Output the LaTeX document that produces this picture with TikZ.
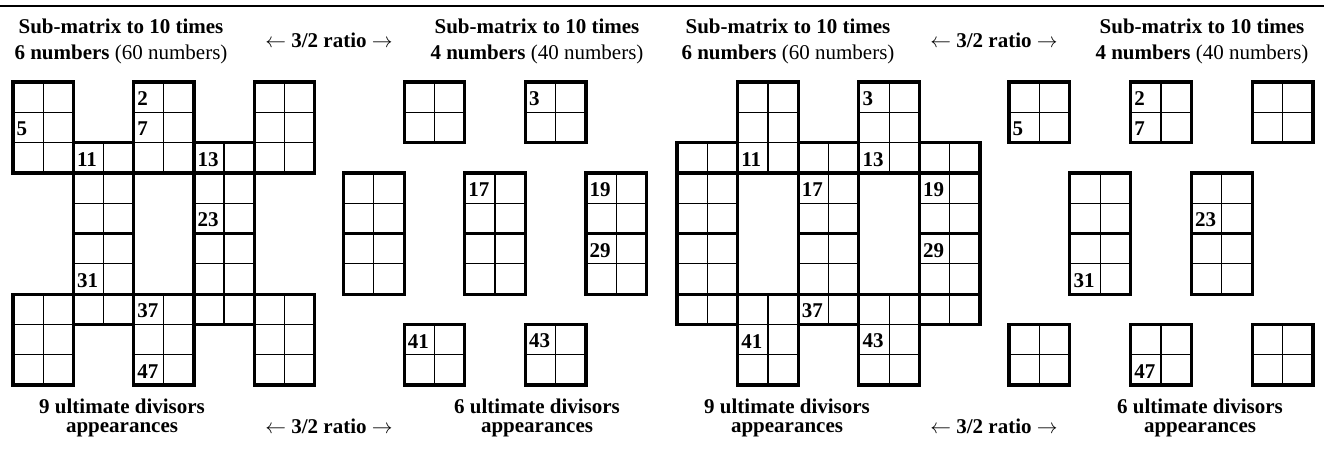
\documentclass[tikz,border=0pt]{standalone}
\usepackage{fontspec}
\setmainfont{Liberation Serif}
% one group of cells: column, row, width, height (in cells)
\newcommand{\cellblock}[4]{%
  \foreach \i in {0,...,#3} \draw[cellline] (#1+\i,#2) -- ++(0,#4);
  \foreach \j in {0,...,#4} \draw[cellline] (#1,#2+\j) -- ++(#3,0);
  \draw[blockline] (#1,#2) rectangle ++(#3,#4);}

\begin{document}
\begin{tikzpicture}[
  x=1pt, y=-1pt,
  cellline/.style={line width=1.2pt},
  blockline/.style={line width=3.2pt},
  num/.style={anchor=west, inner xsep=3.5pt, inner ysep=0pt, font=\fontsize{21}{21}\selectfont\bfseries},
  headtext/.style={align=center, inner sep=0pt, anchor=base, font=\fontsize{21}{26}\selectfont},
  foottext/.style={align=center, inner sep=0pt, anchor=base, font=\fontsize{21}{19}\selectfont\bfseries},
  ratiotext/.style={inner sep=0pt, anchor=base, font=\fontsize{21}{21}\selectfont\bfseries}
]
\useasboundingbox (0,0) rectangle (1324,452);
\draw[line width=2.3pt] (0,6) -- (1324,6);

% labels
\node[headtext] (headA) at (121,59.5) {\textbf{Sub-matrix to 10 times}\\\textbf{6 numbers} (60 numbers)};
\node[ratiotext] (ratioA) at (329,48) {$\leftarrow$ 3/2 ratio $\rightarrow$};
\node[headtext] (headB) at (537,59.5) {\textbf{Sub-matrix to 10 times}\\\textbf{4 numbers} (40 numbers)};
\node[headtext] (headC) at (788,59.5) {\textbf{Sub-matrix to 10 times}\\\textbf{6 numbers} (60 numbers)};
\node[ratiotext] (ratioC) at (994,48) {$\leftarrow$ 3/2 ratio $\rightarrow$};
\node[headtext] (headD) at (1202,59.5) {\textbf{Sub-matrix to 10 times}\\\textbf{4 numbers} (40 numbers)};

\node[foottext] (footA) at (122,432) {9 ultimate divisors\\appearances};
\node[ratiotext] (ratioB) at (329,433) {$\leftarrow$ 3/2 ratio $\rightarrow$};
\node[foottext] (footB) at (537,432) {6 ultimate divisors\\appearances};
\node[foottext] (footC) at (787,432) {9 ultimate divisors\\appearances};
\node[ratiotext] (ratioD) at (994,433) {$\leftarrow$ 3/2 ratio $\rightarrow$};
\node[foottext] (footD) at (1200,432) {6 ultimate divisors\\appearances};

% 60 numbers, first
\begin{scope}[shift={(13pt,-82pt)}, x=30.15pt, y=-30.3pt]
  \foreach \c in {0,4,8} {\cellblock{\c}{0}{2}{3} \cellblock{\c}{7}{2}{3}}
  \foreach \c in {2,6} {\cellblock{\c}{2}{2}{1} \cellblock{\c}{3}{2}{2}
    \cellblock{\c}{5}{2}{2} \cellblock{\c}{7}{2}{1}}
  \node[num] (a2) at (4,0.55) {2};
  \node[num] (a5) at (0,1.55) {5};
  \node[num] (a7) at (4,1.55) {7};
  \node[num] (a11) at (2,2.55) {11};
  \node[num] (a13) at (6,2.55) {13};
  \node[num] (a23) at (6,4.55) {23};
  \node[num] (a31) at (2,6.55) {31};
  \node[num] (a37) at (4,7.55) {37};
  \node[num] (a47) at (4,9.55) {47};
\end{scope}

% 40 numbers, first
\begin{scope}[shift={(343.5pt,-82pt)}, x=30.3pt, y=-30.3pt]
  \foreach \c in {2,6} {\cellblock{\c}{0}{2}{2} \cellblock{\c}{8}{2}{2}}
  \foreach \c in {0,4,8} {\cellblock{\c}{3}{2}{2} \cellblock{\c}{5}{2}{2}}
  \node[num] (b3) at (6,0.55) {3};
  \node[num] (b17) at (4,3.55) {17};
  \node[num] (b19) at (8,3.55) {19};
  \node[num] (b29) at (8,5.55) {29};
  \node[num] (b41) at (2,8.55) {41};
  \node[num] (b43) at (6,8.55) {43};
\end{scope}

% 60 numbers, second
\begin{scope}[shift={(677pt,-82pt)}, x=30.3pt, y=-30.3pt]
  \foreach \c in {2,6} {\cellblock{\c}{0}{2}{3} \cellblock{\c}{7}{2}{3}}
  \foreach \c in {0,4,8} {\cellblock{\c}{2}{2}{1} \cellblock{\c}{3}{2}{2}
    \cellblock{\c}{5}{2}{2} \cellblock{\c}{7}{2}{1}}
  \node[num] (c3) at (6,0.55) {3};
  \node[num] (c11) at (2,2.55) {11};
  \node[num] (c13) at (6,2.55) {13};
  \node[num] (c17) at (4,3.55) {17};
  \node[num] (c19) at (8,3.55) {19};
  \node[num] (c29) at (8,5.55) {29};
  \node[num] (c37) at (4,7.55) {37};
  \node[num] (c41) at (2,8.55) {41};
  \node[num] (c43) at (6,8.55) {43};
\end{scope}

% 40 numbers, second
\begin{scope}[shift={(1009pt,-82pt)}, x=30.4pt, y=-30.3pt]
  \foreach \c in {0,4,8} {\cellblock{\c}{0}{2}{2} \cellblock{\c}{8}{2}{2}}
  \foreach \c in {2,6} {\cellblock{\c}{3}{2}{2} \cellblock{\c}{5}{2}{2}}
  \node[num] (d2) at (4,0.55) {2};
  \node[num] (d5) at (0,1.55) {5};
  \node[num] (d7) at (4,1.55) {7};
  \node[num] (d23) at (6,4.55) {23};
  \node[num] (d31) at (2,6.55) {31};
  \node[num] (d47) at (4,9.55) {47};
\end{scope}
\end{tikzpicture}
\end{document}
